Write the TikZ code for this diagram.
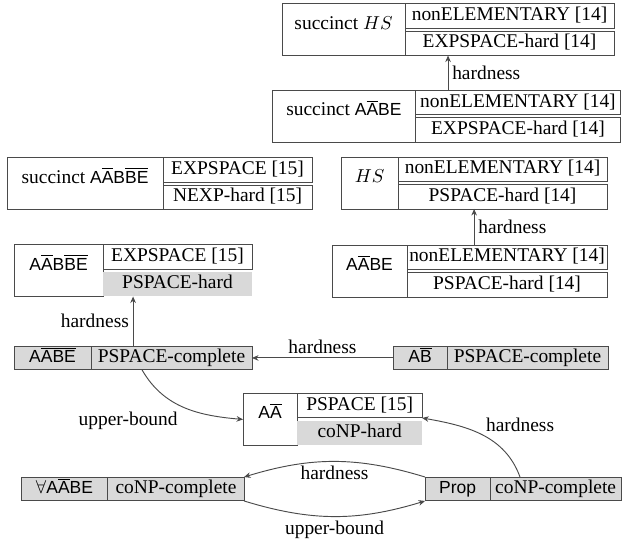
\documentclass[tikz,border=0pt]{standalone}
\usepackage{fontspec}
\setmainfont{Liberation Serif}
\setsansfont{Liberation Sans}[Scale=0.9]
\usepackage{tikz}
\usetikzlibrary{arrows.meta, positioning, calc}
\definecolor{cellgray}{HTML}{D9D9D9}
\definecolor{edgegray}{HTML}{4A4A4A}
\newcommand{\ovl}[1]{$\overline{\mbox{#1}}$}

\begin{document}
\begin{tikzpicture}[font=\fontsize{10.4}{12}\selectfont,
    logic/.style={rectangle, draw=edgegray, line width=0.5pt, outer sep=0pt,
      minimum height=27.8pt, inner sep=0.5pt, text height=7pt, text depth=7.5pt},
    cell/.style={rectangle, draw=edgegray, line width=0.5pt, outer sep=0pt,
      minimum height=13.1pt, inner sep=0.5pt, text height=7pt, text depth=2pt},
    shaded/.style={rectangle, fill=cellgray, outer sep=0pt,
      minimum height=13.1pt, inner sep=0.5pt, text height=7pt, text depth=2pt},
    row/.style={rectangle, draw=edgegray, fill=cellgray, line width=0.5pt, outer sep=0pt,
      minimum height=12.8pt, inner sep=0.5pt, text height=7pt, text depth=2pt},
    conn/.style={-{Stealth[length=3.5pt, width=3pt]}, line width=0.5pt, edgegray},
    lbl/.style={text=black, inner sep=2pt}]

    \useasboundingbox (0,0) rectangle (333.3pt,-290pt);

    % succinct HS
    \node (shs) [logic, minimum width=65.8pt] at (183.8pt,-15.8pt) {succinct $HS$};
    \node (shsUp) [cell, minimum width=111.8pt, anchor=north west] at (shs.north east) {nonELEMENTARY [14]};
    \node (shsLo) [cell, minimum width=111.8pt, anchor=south west] at (shs.south east) {EXPSPACE-hard [14]};

    % succinct AAbarBE
    \node (sae) [logic, minimum width=76pt] at (184pt,-62.3pt) {succinct \textsf{A\ovl{A}BE}};
    \node (saeUp) [cell, minimum width=110.2pt, anchor=north west] at (sae.north east) {nonELEMENTARY [14]};
    \node (saeLo) [cell, minimum width=110.2pt, anchor=south west] at (sae.south east) {EXPSPACE-hard [14]};

    % succinct AAbarBBbarEbar
    \node (sabe) [logic, minimum width=83.5pt] at (45.5pt,-98.2pt) {succinct \textsf{A\ovl{A}B\ovl{B}\ovl{E}}};
    \node (sabeUp) [cell, minimum width=79.7pt, anchor=north west] at (sabe.north east) {EXPSPACE [15]};
    \node (sabeLo) [cell, minimum width=79.7pt, anchor=south west] at (sabe.south east) {NEXP-hard [15]};

    % HS
    \node (hs) [logic, minimum width=30.5pt] at (197.7pt,-97.9pt) {$HS$};
    \node (hsUp) [cell, minimum width=111.8pt, anchor=north west] at (hs.north east) {nonELEMENTARY [14]};
    \node (hsLo) [cell, minimum width=111.8pt, anchor=south west] at (hs.south east) {PSPACE-hard [14]};

    % AAbarBE
    \node (aabe) [logic, minimum width=40.1pt] at (197.7pt,-145pt) {\textsf{A\ovl{A}BE}};
    \node (aabeUp) [cell, minimum width=107pt, anchor=north west] at (aabe.north east) {nonELEMENTARY [14]};
    \node (aabeLo) [cell, minimum width=107pt, anchor=south west] at (aabe.south east) {PSPACE-hard [14]};

    % AAbarBBbarEbar
    \node (abbe) [logic, minimum width=47.6pt] at (31.3pt,-144.7pt) {\textsf{A\ovl{A}B\ovl{B}\ovl{E}}};
    \node (abbeUp) [cell, minimum width=79.7pt, anchor=north west] at (abbe.north east) {EXPSPACE [15]};
    \node (abbeLo) [shaded, minimum width=79.7pt, anchor=south west] at (abbe.south east) {PSPACE-hard};

    % AAbarBbarEbar
    \node (abarL) [row, minimum width=41.2pt] at (28.1pt,-191.5pt) {\textsf{A\ovl{ABE}}};
    \node (abarR) [row, minimum width=86.1pt, anchor=west] at (abarL.east) {PSPACE-complete};

    % ABbar
    \node (abL) [row, minimum width=28.9pt] at (224.7pt,-191.5pt) {\textsf{A\ovl{B}}};
    \node (abR) [row, minimum width=86.1pt, anchor=west] at (abL.east) {PSPACE-complete};

    % AAbar
    \node (aa) [logic, minimum width=28.9pt] at (144.5pt,-224.4pt) {\textsf{A\ovl{A}}};
    \node (aaUp) [cell, minimum width=66.9pt, anchor=north west] at (aa.north east) {PSPACE [15]};
    \node (aaLo) [shaded, minimum width=66.9pt, anchor=south west] at (aa.south east) {coNP-hard};

    % forall AAbarBE
    \node (allL) [row, minimum width=46.5pt] at (34.5pt,-261.6pt) {$\forall$\textsf{A\ovl{A}BE}};
    \node (allR) [row, minimum width=72.8pt, anchor=west] at (allL.east) {coNP-complete};

    % Prop
    \node (propL) [row, minimum width=34.8pt] at (244.8pt,-261.6pt) {\textsf{Prop}};
    \node (propR) [row, minimum width=70.1pt, anchor=west] at (propL.east) {coNP-complete};

    % Connections
    \coordinate (h1) at ([xshift=17.7pt]saeUp.north west);
    \draw[conn] (h1) -- (h1 |- shsLo.south) node[lbl, midway, right] {hardness};
    \coordinate (h2) at ([xshift=35.9pt]aabeUp.north west);
    \draw[conn] (h2) -- (h2 |- hsLo.south) node[lbl, midway, right] {hardness};
    \coordinate (h3) at ([xshift=22.5pt]abarR.north west);
    \draw[conn] (h3) -- (h3 |- abbeLo.south) node[lbl, midway, left] {hardness};
    \draw[conn] (abL.west) -- (abarR.east) node[lbl, midway, above] {hardness};

    \coordinate (u1) at ([xshift=27.3pt]abarR.south west);
    \draw[conn] (u1) to[out=-60, in=175] node[lbl, pos=0.6, anchor=north east, xshift=-7pt, yshift=2pt] {upper-bound} (aa.west);
    \coordinate (h4) at ([xshift=16pt]propR.north west);
    \draw[conn] (h4) to[out=110, in=-10] node[lbl, pos=0.5, right, yshift=5pt] {hardness} (aaUp.south east);

    \draw[conn] (propL.north west) to[bend right=17] node[lbl, below] {hardness} (allR.north east);
    \draw[conn] (allR.south east) to[bend right=17] node[lbl, below] {upper-bound} (propL.south west);
\end{tikzpicture}
\end{document}
